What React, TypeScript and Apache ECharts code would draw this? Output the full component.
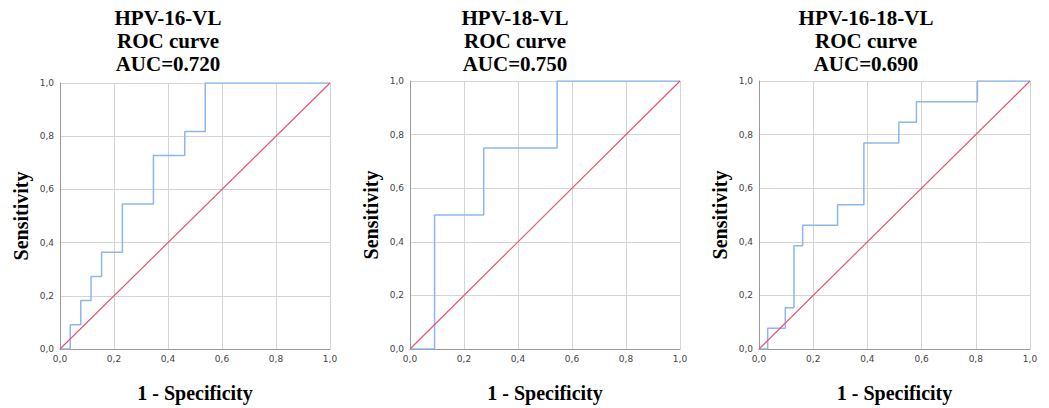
import React, { useEffect, useRef } from "react";
import * as echarts from "echarts";

// Panel titles
const titles = [
  "HPV-16-VL\nROC curve\nAUC=0.720",
  "HPV-18-VL\nROC curve\nAUC=0.750",
  "HPV-16-18-VL\nROC curve\nAUC=0.690",
];

// ROC step corner points: 1 - Specificity (x) and Sensitivity (y)
const fpr16 = [0, 0.038, 0.077, 0.115, 0.154, 0.231, 0.346, 0.462, 0.538, 1];
const tpr16 = [0, 0.091, 0.182, 0.273, 0.364, 0.545, 0.727, 0.818, 1, 1];

const fpr18 = [0, 0.091, 0.273, 0.545, 1];
const tpr18 = [0, 0.5, 0.75, 1, 1];

const fpr1618 = [0, 0.032, 0.097, 0.129, 0.161, 0.29, 0.387, 0.516, 0.581, 0.806, 1];
const tpr1618 = [0, 0.077, 0.154, 0.385, 0.462, 0.538, 0.769, 0.846, 0.923, 1, 1];

// Reference (chance) diagonal
const refX = [0, 1];
const refY = [0, 1];

const axisTicks = [0, 0.2, 0.4, 0.6, 0.8, 1.0];

const xName = "1 - Specificity";
const yName = "Sensitivity";

const grids = [
  { left: 60, top: 83, width: 270, height: 275 },
  { left: 410, top: 81, width: 270, height: 276 },
  { left: 759, top: 81, width: 271, height: 277 },
];
const titleCenters = [168, 515, 866];

const curves = [
  [fpr16, tpr16],
  [fpr18, tpr18],
  [fpr1618, tpr1618],
];

const fmt = (v: number) => v.toFixed(1).replace(".", ",");

const RED = "#e8536d";
const BLUE = "#8db6ee";

export default function App() {
  const ref = useRef<HTMLDivElement>(null);
  useEffect(() => {
    if (!ref.current) return;
    const chart = echarts.init(ref.current, undefined, { renderer: "svg" });
    const serif = "'Liberation Serif', 'Times New Roman', serif";
    const sans = "'DejaVu Sans', Verdana, sans-serif";
    const xAxis: any[] = [];
    const yAxis: any[] = [];
    const series: any[] = [];
    grids.forEach((g, i) => {
      const common = {
        gridIndex: i,
        type: "value",
        min: 0,
        max: 1,
        interval: 0.2,
        axisLine: { show: true, lineStyle: { color: "#9a9a9a", width: 1 } },
        axisTick: { show: false },
        axisLabel: {
          color: "#444",
          fontSize: 9,
          fontFamily: sans,
          formatter: (v: number) => (axisTicks.some((t) => Math.abs(t - v) < 1e-6) ? fmt(v) : ""),
        },
        splitLine: { show: true, lineStyle: { color: "#d4d4d4", width: 1 } },
        nameLocation: "middle",
        nameTextStyle: {
          fontFamily: serif,
          fontWeight: "bold",
          fontSize: 20,
          color: "#000",
        },
      };
      xAxis.push({
        ...common,
        name: xName,
        nameGap: 34,
        axisLabel: { ...common.axisLabel, margin: 5 },
      });
      yAxis.push({
        ...common,
        name: yName,
        nameGap: 29,
        axisLabel: { ...common.axisLabel, margin: 6 },
      });
      series.push({
        type: "line",
        xAxisIndex: i,
        yAxisIndex: i,
        color: RED,
        data: refX.map((v, k) => [v, refY[k]]),
        symbol: "none",
        clip: false,
        lineStyle: { color: RED, width: 1.2, opacity: 1 },
        emphasis: { disabled: true },
        z: 3,
      });
      const [xs, ys] = curves[i];
      series.push({
        type: "line",
        xAxisIndex: i,
        yAxisIndex: i,
        color: BLUE,
        data: xs.map((x, k) => [x, ys[k]]),
        step: "end",
        symbol: "none",
        lineStyle: { color: BLUE, width: 1.5 },
        emphasis: { disabled: true },
        z: 2,
      });
    });
    chart.setOption({
      animation: false,
      backgroundColor: "#fff",
      grid: grids.map((g) => ({ ...g, containLabel: false })),
      xAxis,
      yAxis,
      series,
      graphic: titles.map((t, i) => ({
        type: "text",
        x: titleCenters[i],
        y: 6,
        style: {
          text: t,
          textAlign: "center",
          textVerticalAlign: "top",
          fontFamily: serif,
          fontWeight: "bold",
          fontSize: 21,
          lineHeight: 23,
          fill: "#000",
        },
      })),
    });
    return () => chart.dispose();
  }, []);
  return (
    <div
      ref={ref}
      style={{ position: "absolute", left: 0, top: 0, width: 1049, height: 408 }}
    />
  );
}
